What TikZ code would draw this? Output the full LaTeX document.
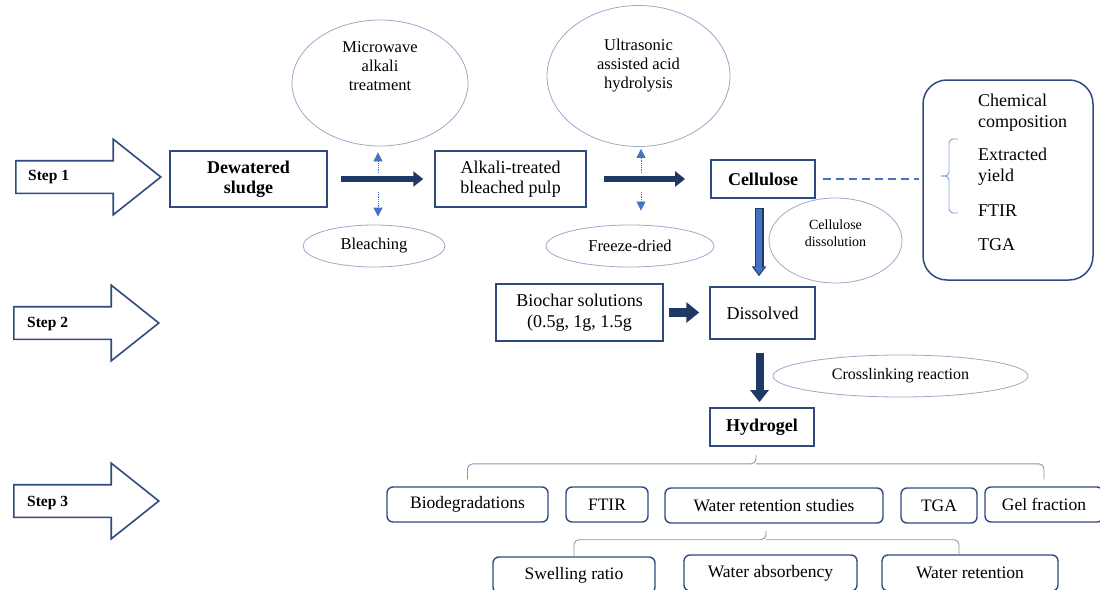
\documentclass[tikz,border=0pt]{standalone}
\usepackage{fontspec}
\setmainfont{Liberation Serif}
\usetikzlibrary{arrows.meta,shapes.geometric,shapes.arrows}
\definecolor{boxblue}{HTML}{2F4A80}
\definecolor{navy}{HTML}{1F3864}
\definecolor{lblue}{HTML}{4472C4}
\definecolor{brgray}{HTML}{8497B0}
\definecolor{ellgray}{HTML}{A3A6C9}
\definecolor{brlight}{HTML}{7F9FD8}
\begin{document}
\begin{tikzpicture}[x=1pt,y=-1pt,
  stepar/.style={single arrow, draw=boxblue, line width=1.6pt, minimum height=145pt,
     single arrow head extend=21.5pt, single arrow tip angle=77,
     inner xsep=0pt, inner ysep=15.5pt, shape border rotate=0, anchor=tail},
  steptxt/.style={font=\bfseries\fontsize{15.5}{18}\selectfont, anchor=west, inner sep=0pt},
  box/.style={draw=boxblue, line width=1.5pt, inner sep=0pt, align=center,
     font=\fontsize{18}{20.5}\selectfont},
  boldbox/.style={box, font=\bfseries\fontsize{18}{20.5}\selectfont},
  rbox/.style={draw=boxblue, line width=1.4pt, rounded corners=6pt, inner sep=0pt,
     font=\fontsize{17.5}{20}\selectfont},
  ell/.style={ellipse, draw=ellgray, line width=0.8pt, inner sep=0pt, align=center,
     font=\fontsize{16.5}{19}\selectfont},
  etext/.style={align=center, inner sep=0pt, font=\fontsize{16.5}{19}\selectfont},
  lbl/.style={anchor=west, inner sep=0pt, text height=12pt, text depth=4pt,
     font=\fontsize{18}{21}\selectfont},
  fat/.style={navy, line width=6pt, -{Triangle[length=10pt,width=15pt]}},
  dotar/.style={lblue, line width=0.8pt, densely dotted, -{Triangle[length=9pt,width=9pt]}},
  brace/.style={brgray, line width=0.9pt, rounded corners=5pt}
]
\useasboundingbox (0,0) rectangle (1100,589);

% step arrows
\node[stepar] (step1) at (15,177) {};
\node[stepar] (step2) at (13,323) {};
\node[stepar] (step3) at (13,501) {};
\node[steptxt] (s1t) at (28,177) {Step 1};
\node[steptxt] (s2t) at (27,324) {Step 2};
\node[steptxt] (s3t) at (27,503) {Step 3};

% ellipses
\node[ell, minimum width=176pt, minimum height=126pt] (micro) at (380,83) {};
\node[etext] (microt) at (380,66) {Microwave\\alkali\\treatment};
\node[ell, minimum width=183pt, minimum height=141pt] (ultra) at (638.5,76) {};
\node[etext] (ultrat) at (638.5,66) {Ultrasonic\\assisted acid\\hydrolysis};
\node[ell, minimum width=142pt, minimum height=42pt] (bleach) at (374,246) {Bleaching};
\node[ell, minimum width=168pt, minimum height=42pt] (freeze) at (630,246) {Freeze-dried};
\node[ell, minimum width=133pt, minimum height=85pt] (celld) at (835.5,240.5) {};
\node[etext, font=\fontsize{14}{17}\selectfont] (celldt) at (835.5,233) {Cellulose\\dissolution};
\node[ell, minimum width=255pt, minimum height=42pt, font=\fontsize{16}{19}\selectfont] (cross) at (900.5,376) {Crosslinking reaction};

% main boxes
\node[boldbox, minimum width=157pt, minimum height=56pt] (dew) at (248.5,179) {Dewatered\\sludge};
\node[box, minimum width=151pt, minimum height=56pt] (alk) at (510.5,179) {Alkali-treated\\bleached pulp};
\node[boldbox, minimum width=104pt, minimum height=38pt, line width=1.8pt] (cell) at (763,179) {Cellulose};
\node[box, minimum width=167pt, minimum height=57pt] (bio) at (579.5,312.5) {Biochar solutions\\(0.5g, 1g, 1.5g};
\node[box, minimum width=105pt, minimum height=52pt] (dis) at (762.5,313) {Dissolved};
\node[boldbox, minimum width=104pt, minimum height=38pt, line width=1.8pt] (hyd) at (762,427) {Hydrogel};

% right characterisation box
\node[draw=boxblue, line width=1.5pt, rounded corners=24pt, minimum width=170pt, minimum height=200pt] (props) at (1008,180) {};
\node[lbl] (p1) at (978,102) {Chemical};
\node[lbl] (p2) at (978,123) {composition};
\node[lbl] (p3) at (978,156) {Extracted};
\node[lbl] (p4) at (978,177) {yield};
\node[lbl] (p5) at (978,212) {FTIR};
\node[lbl] (p6) at (978,246) {TGA};
\draw[brlight, line width=0.9pt, rounded corners=4pt] (958,139) -- (949,139) -- (949,176) -- (941,176);
\draw[brlight, line width=0.9pt, rounded corners=4pt] (941,176) -- (949,176) -- (949,213) -- (958,213);

% bottom boxes
\node[rbox, minimum width=161pt, minimum height=35pt] (biod) at (467.5,504.5) {Biodegradations};
\node[rbox, minimum width=82pt, minimum height=35pt] (ftir) at (607,504.5) {FTIR};
\node[rbox, minimum width=218pt, minimum height=35pt] (wrs) at (774,505.5) {Water retention studies};
\node[rbox, minimum width=76pt, minimum height=35pt] (tga) at (939,505.5) {TGA};
\node[rbox, minimum width=118pt, minimum height=35pt] (gel) at (1044,504.5) {Gel fraction};
\node[rbox, minimum width=162pt, minimum height=36pt] (swell) at (574,575) {Swelling ratio};
\node[rbox, minimum width=173pt, minimum height=36pt] (wabs) at (770.5,573) {Water absorbency};
\node[rbox, minimum width=176pt, minimum height=36pt] (wret) at (970,573) {Water retention};

% main flow arrows
\draw[fat, shorten <=13pt, shorten >=11pt] (dew) -- (alk);
\draw[fat, shorten <=17pt, shorten >=25pt] (alk) -- (cell);
\coordinate (m1) at (378,179);
\coordinate (m2) at (641,179);
\draw[dotar, shorten >=6pt] ([yshift=6pt]m1) -- (m1 |- micro.south);
\draw[dotar, shorten >=8pt] ([yshift=-13pt]m1) -- (m1 |- bleach.north);
\draw[dotar, shorten >=2pt] ([yshift=6pt]m2) -- (m2 |- ultra.south);
\draw[dotar, shorten >=14pt] ([yshift=-13pt]m2) -- (m2 |- freeze.north);

\draw[navy, line width=9pt, -{Triangle[length=10pt,width=14pt]}, shorten <=9pt, shorten >=10pt]
  ([xshift=-4pt]cell.south) -- ([xshift=-4pt]cell.south |- dis.north);
\draw[lblue, line width=6pt, -{Triangle[length=7pt,width=9.5pt]}, shorten <=10pt, shorten >=11.8pt]
  ([xshift=-4pt]cell.south) -- ([xshift=-4pt]cell.south |- dis.north);

\draw[navy, line width=9pt, -{Triangle[length=13pt,width=20pt]}, shorten <=5pt, shorten >=10pt]
  (bio.east) -- (bio.east -| dis.west);
\draw[navy, line width=8pt, -{Triangle[length=12pt,width=18pt]}, shorten <=13pt, shorten >=5pt]
  ([xshift=-3pt]dis.south) -- ([xshift=-3pt]dis.south |- hyd.north);

% dashed link
\draw[lblue, line width=1.2pt, dash pattern=on 8pt off 5pt]
  ([xshift=7pt]cell.east) -- ([xshift=-3pt]cell.east -| props.west);

% braces
\coordinate (hb) at ([xshift=-6pt,yshift=-17pt]hyd.south);
\draw[brace] ([yshift=7pt]biod.north) |- (hb) -- ([yshift=9pt]hb);
\draw[brace] ([yshift=7pt]gel.north) |- (hb);
\coordinate (wb) at ([xshift=-8pt,yshift=-16pt]wrs.south);
\draw[brace] (swell.north) |- (wb) -- ([yshift=9pt]wb);
\draw[brace] ([xshift=-11pt]wret.north) |- (wb);
\end{tikzpicture}
\end{document}
